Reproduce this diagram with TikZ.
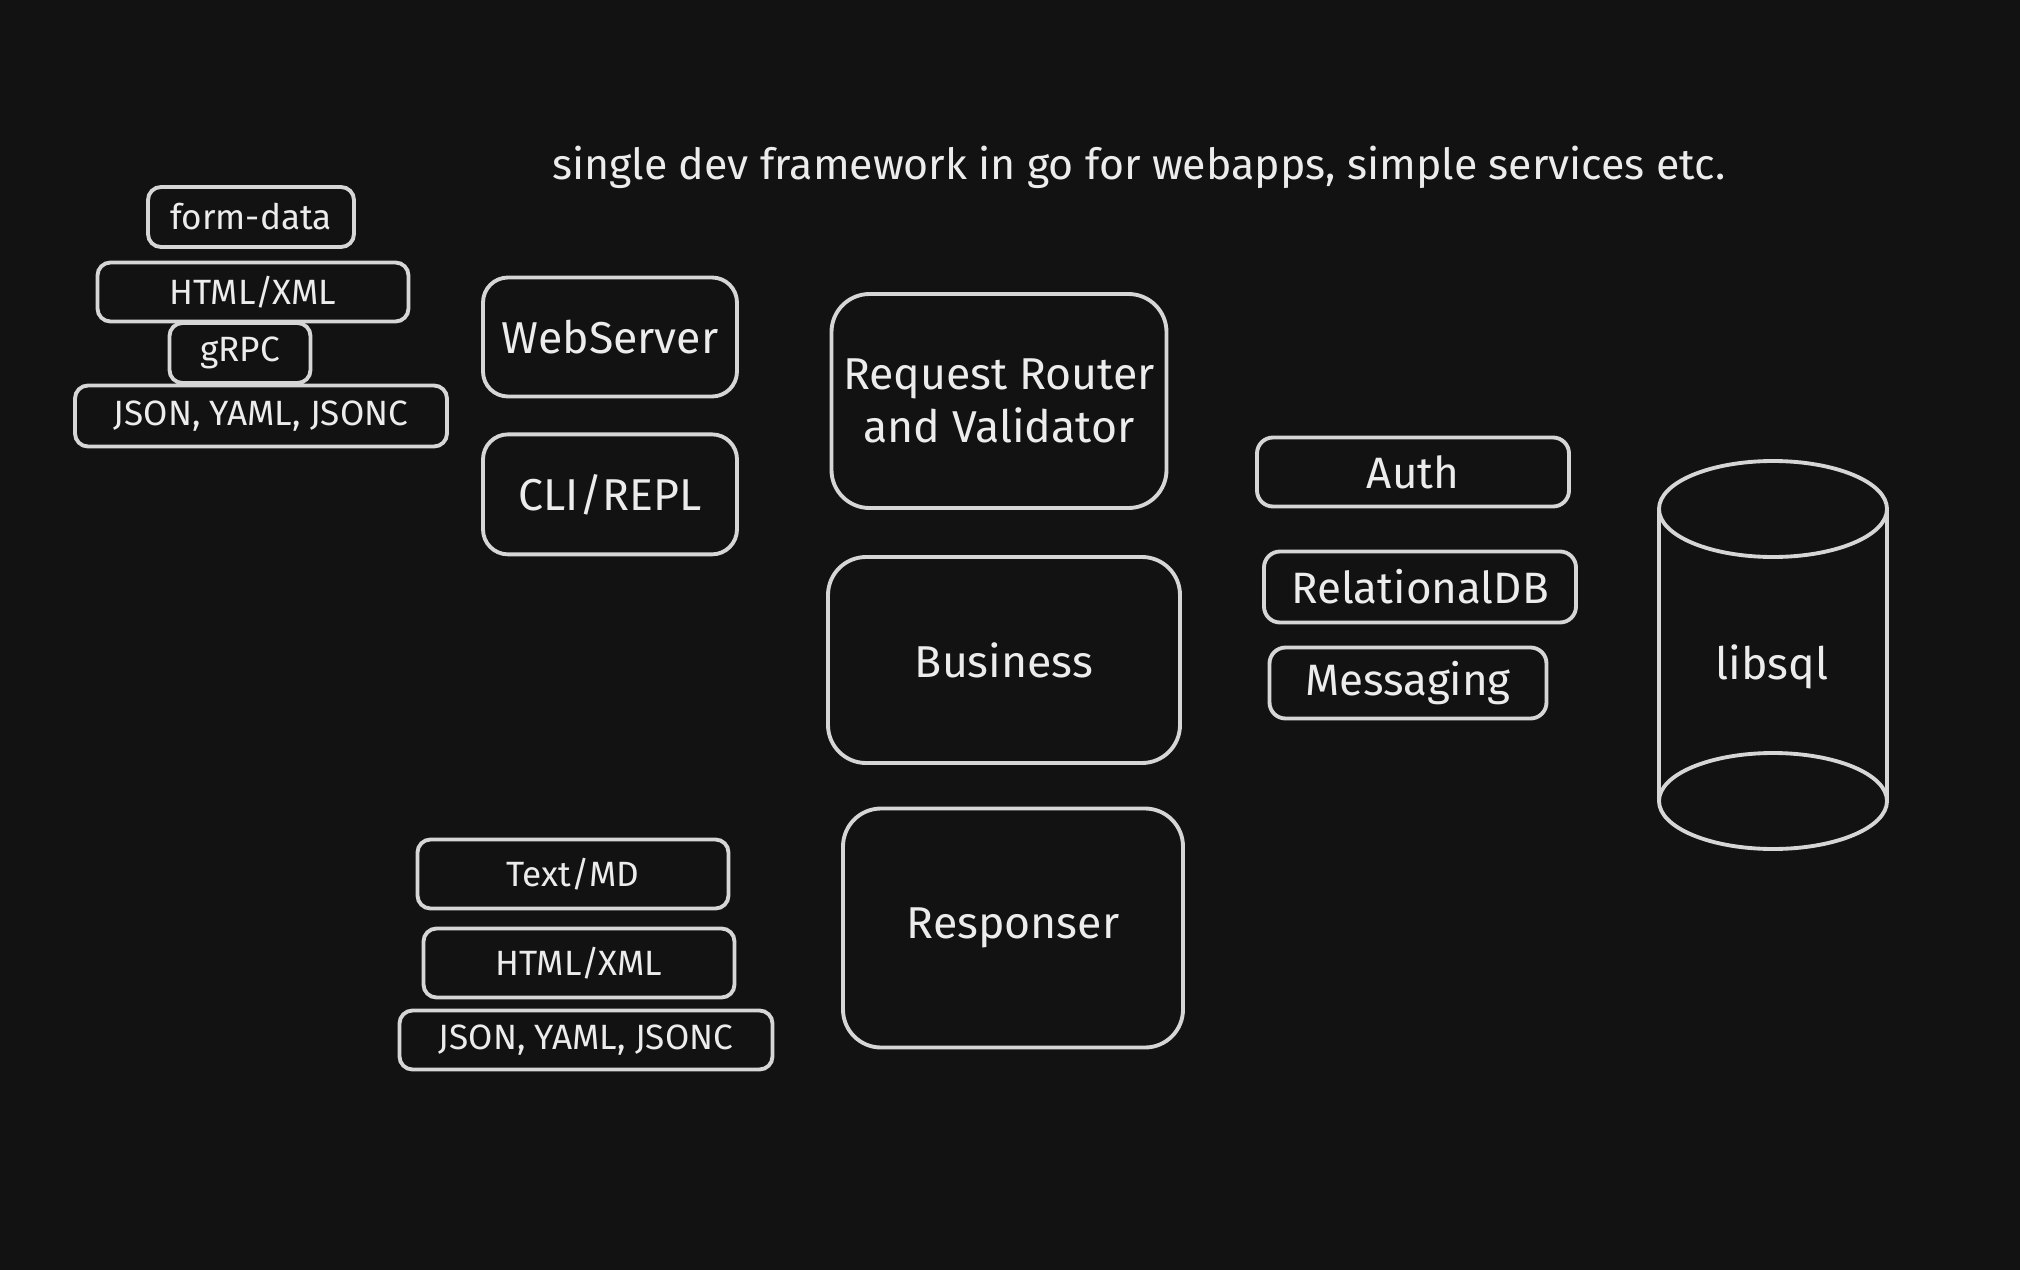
\documentclass[tikz,border=0pt]{standalone}
\usepackage{fontspec}
\setmainfont{Fira Sans}
\usetikzlibrary{positioning}

\definecolor{bg}{HTML}{121212}
\definecolor{ink}{HTML}{D6D6D6}
\definecolor{txt}{HTML}{ECECEC}

\begin{document}
\begin{tikzpicture}
[line width=1.1pt, font=\fontsize{12.7}{15}\selectfont, text=txt]
\tikzstyle{fmt}=[draw=ink, rounded corners=0.13cm, inner sep=0pt, align=center, font=\fontsize{10}{12}\selectfont]
\tikzstyle{tier}=[draw=ink, rounded corners=0.38cm, inner sep=0pt, align=center]
\tikzstyle{svc}=[draw=ink, rounded corners=0.16cm, inner sep=0pt, align=center, font=\fontsize{12.5}{14}\selectfont]

\fill[bg] (0,0) rectangle (20.2,-12.7);

\node (title) at (11.39,-1.67) {\fontsize{12.2}{14}\selectfont single dev framework in go for webapps, simple services etc.};

% input formats
\node[fmt, minimum width=2.06cm, minimum height=0.60cm] (form_data) at (2.51,-2.17) {form-data};
\node[fmt, minimum width=3.11cm, minimum height=0.59cm] (html_in) at (2.53,-2.92) {HTML/XML};
\node[fmt, minimum width=1.41cm, minimum height=0.60cm] (grpc) at (2.40,-3.53) {gRPC};
\node[fmt, minimum width=3.72cm, minimum height=0.61cm] (json_in) at (2.61,-4.16) {JSON, YAML, JSONC};

% entry points
\node[tier, rounded corners=0.25cm, minimum width=2.54cm, minimum height=1.19cm] (webserver) at (6.10,-3.37) {WebServer};
\node[tier, rounded corners=0.25cm, minimum width=2.54cm, minimum height=1.20cm] (cli) [below=0.34cm of webserver] {CLI/REPL};

% core
\node[tier, minimum width=3.35cm, minimum height=2.14cm] (router) at (9.99,-4.01) {Request Router\\and Validator};
\node[tier, minimum width=3.52cm, minimum height=2.06cm] (business) at (10.04,-6.60) {Business};
\node[tier, minimum width=3.40cm, minimum height=2.39cm] (responser) at (10.13,-9.28) {Responser};

% output formats
\node[fmt, minimum width=3.11cm, minimum height=0.69cm] (text_out) at (5.73,-8.74) {Text/MD};
\node[fmt, minimum width=3.11cm, minimum height=0.69cm] (html_out) at (5.79,-9.63) {HTML/XML};
\node[fmt, minimum width=3.73cm, minimum height=0.59cm] (json_out) at (5.86,-10.40) {JSON, YAML, JSONC};

% services
\node[svc, minimum width=3.12cm, minimum height=0.69cm] (auth) at (14.13,-4.72) {Auth};
\node[svc, minimum width=3.12cm, minimum height=0.71cm] (reldb) at (14.20,-5.87) {RelationalDB};
\node[svc, minimum width=2.77cm, minimum height=0.71cm] (messaging) at (14.08,-6.83) {Messaging};

% storage
\draw[ink] (16.59,-5.09) -- (16.59,-8.01);
\draw[ink] (18.87,-5.09) -- (18.87,-8.01);
\draw[ink] (17.73,-5.09) ellipse [x radius=1.14cm, y radius=0.48cm];
\draw[ink] (17.73,-8.01) ellipse [x radius=1.14cm, y radius=0.48cm];
\node (libsql) at (17.72,-6.67) {libsql};
\end{tikzpicture}
\end{document}
